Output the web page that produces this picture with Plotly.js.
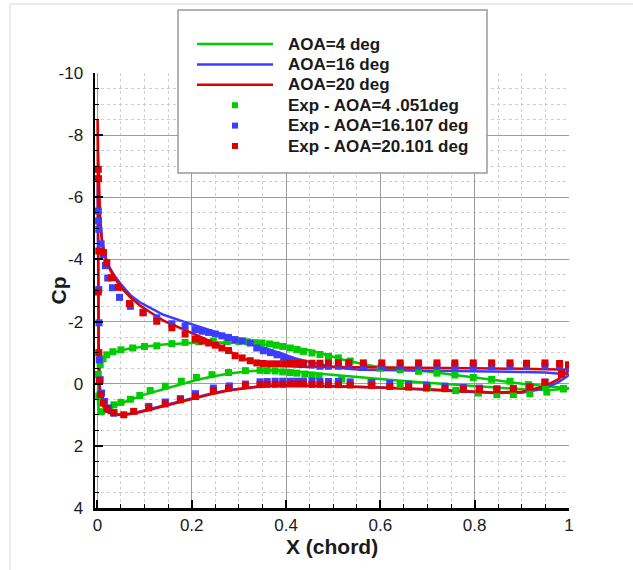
<!DOCTYPE html>
<html><head><meta charset="utf-8">
<script src="https://cdn.plot.ly/plotly-3.0.1.min.js"></script>
<style>html,body{margin:0;padding:0;background:#fff;}#chart{width:633px;height:570px;}</style>
</head><body><div id="chart"></div>
<script>
// ---------- DATA ----------
const seriesNames = ['AOA=4 deg','AOA=16 deg','AOA=20 deg','Exp - AOA=4 .051deg','Exp - AOA=16.107 deg','Exp - AOA=20.101 deg'];

// CFD AOA=4 (upper TE->LE, then lower LE->TE)
const cfd4_x = [1.0,0.95,0.91,0.85,0.8,0.75,0.7,0.65,0.6,0.56,0.52,0.48,0.45,0.41,0.37,0.33,0.28,0.21,0.14,0.1,0.07,0.045,0.028,0.015,0.008,0.004,0.002,0.001,
  0.0015,0.003,0.006,0.011,0.02,0.03,0.045,0.07,0.1,0.14,0.176,0.21,0.246,0.28,0.32,0.35,0.4,0.45,0.5,0.56,0.63,0.7,0.77,0.84,0.91,0.96,1.0];
const cfd4_cp = [0.15,0.08,0.02,-0.1,-0.2,-0.3,-0.39,-0.45,-0.52,-0.64,-0.78,-0.95,-1.08,-1.18,-1.25,-1.3,-1.33,-1.32,-1.26,-1.2,-1.14,-1.05,-0.98,-0.85,-0.7,-0.45,-0.1,0.3,
  0.6,0.85,0.97,0.98,0.88,0.78,0.66,0.52,0.35,0.18,0.02,-0.12,-0.24,-0.33,-0.4,-0.43,-0.42,-0.35,-0.27,-0.19,-0.11,-0.03,0.05,0.13,0.19,0.2,0.15];

// CFD AOA=16
const cfd16_x = [1.0,0.95,0.9,0.8,0.7,0.6,0.557,0.52,0.487,0.45,0.416,0.395,0.36,0.324,0.29,0.254,0.22,0.183,0.14,0.112,0.09,0.07,0.05,0.035,0.024,0.016,0.01,0.006,0.003,0.0012,
  0.0007,0.0012,0.002,0.003,0.005,0.008,0.012,0.02,0.03,0.045,0.06,0.08,0.105,0.14,0.176,0.21,0.246,0.28,0.317,0.35,0.4,0.5,0.6,0.7,0.77,0.84,0.9,0.945,0.975,0.995,1.0];
const cfd16_cp = [-0.3,-0.36,-0.38,-0.4,-0.41,-0.43,-0.45,-0.5,-0.58,-0.7,-0.83,-0.95,-1.12,-1.31,-1.46,-1.63,-1.8,-2.0,-2.22,-2.44,-2.62,-2.85,-3.2,-3.5,-3.8,-4.15,-4.6,-5.2,-5.9,-6.6,
  -6.0,-4.0,-2.0,-0.7,0.1,0.48,0.7,0.88,0.96,0.99,0.98,0.93,0.84,0.7,0.56,0.43,0.3,0.2,0.12,0.07,0.05,0.07,0.12,0.19,0.25,0.3,0.29,0.16,-0.03,-0.22,-0.3];

// CFD AOA=20
const cfd20_x = [1.0,0.95,0.9,0.8,0.7,0.6,0.5,0.43,0.39,0.36,0.345,0.325,0.303,0.28,0.254,0.22,0.183,0.14,0.112,0.09,0.07,0.05,0.035,0.024,0.016,0.01,0.006,0.003,0.0015,0.0005,
  0.0007,0.0012,0.002,0.003,0.005,0.008,0.012,0.02,0.03,0.045,0.06,0.08,0.105,0.14,0.176,0.21,0.246,0.28,0.317,0.35,0.4,0.5,0.6,0.7,0.77,0.84,0.9,0.945,0.975,0.995,1.0];
const cfd20_cp = [-0.45,-0.47,-0.48,-0.5,-0.51,-0.52,-0.53,-0.55,-0.57,-0.6,-0.63,-0.72,-0.86,-1.05,-1.27,-1.5,-1.74,-2.03,-2.3,-2.52,-2.78,-3.1,-3.45,-3.75,-4.1,-4.55,-5.3,-6.4,-7.5,-8.5,
  -7.0,-4.5,-2.2,-0.8,0.1,0.5,0.72,0.9,0.97,1.0,1.0,0.95,0.86,0.72,0.58,0.45,0.32,0.21,0.13,0.08,0.06,0.08,0.12,0.18,0.24,0.28,0.26,0.1,-0.12,-0.35,-0.45];

// Experiment AOA=4.051
const exp4_x = [0.002,0.006,0.012,0.02,0.033,0.05,0.075,0.1,0.126,0.158,0.186,0.215,0.246,0.275,0.3,0.318,0.335,0.349,0.365,0.379,0.393,0.409,0.423,0.437,0.455,0.472,0.49,0.511,0.536,0.6,0.642,0.681,0.72,0.758,0.797,0.836,0.875,0.914,0.95,0.988,
  0.003,0.008,0.02,0.035,0.05,0.07,0.09,0.112,0.144,0.178,0.21,0.243,0.278,0.314,0.345,0.36,0.377,0.393,0.409,0.423,0.44,0.455,0.47,0.518,0.58,0.642,0.7,0.76,0.808,0.847,0.882,0.917,0.953,0.988];
const exp4_cp = [-0.3,-0.62,-0.8,-0.93,-1.03,-1.09,-1.15,-1.2,-1.22,-1.29,-1.33,-1.35,-1.36,-1.36,-1.36,-1.35,-1.32,-1.31,-1.28,-1.24,-1.2,-1.15,-1.1,-1.04,-0.99,-0.94,-0.88,-0.83,-0.73,-0.5,-0.45,-0.4,-0.34,-0.28,-0.2,-0.14,-0.08,0.03,0.1,0.15,
  0.4,0.9,0.8,0.68,0.6,0.5,0.38,0.22,0.08,-0.08,-0.2,-0.29,-0.36,-0.42,-0.43,-0.42,-0.41,-0.38,-0.36,-0.34,-0.31,-0.28,-0.25,-0.15,-0.05,0.03,0.12,0.22,0.3,0.35,0.35,0.32,0.27,0.17];

// Experiment AOA=16.107
const exp16_x = [0.002,0.0025,0.003,0.008,0.013,0.017,0.022,0.032,0.047,0.07,0.097,0.126,0.158,0.186,0.208,0.222,0.236,0.25,0.264,0.278,0.292,0.307,0.324,0.338,0.352,0.367,0.381,0.395,0.409,0.423,0.437,0.455,0.472,0.49,0.511,0.533,0.564,0.603,0.642,0.681,0.72,0.758,0.797,0.836,0.875,0.91,0.949,0.98,0.999,
  0.003,0.0035,0.004,0.006,0.009,0.015,0.024,0.035,0.109,0.144,0.176,0.208,0.246,0.28,0.314,0.345,0.36,0.377,0.393,0.409,0.423,0.437,0.455,0.472,0.49,0.511,0.536,0.582,0.62,0.66,0.698,0.737,0.776,0.81,0.847,0.882,0.917,0.949,0.984];
const exp16_cp = [-5.56,-5.24,-4.97,-4.5,-4.15,-3.8,-3.4,-3.09,-2.78,-2.49,-2.3,-2.12,-1.93,-1.84,-1.74,-1.69,-1.65,-1.6,-1.54,-1.49,-1.42,-1.38,-1.31,-1.15,-1.06,-1.0,-0.93,-0.85,-0.77,-0.7,-0.65,-0.6,-0.56,-0.56,-0.56,-0.56,-0.56,-0.56,-0.56,-0.56,-0.56,-0.56,-0.56,-0.56,-0.56,-0.56,-0.56,-0.56,-0.5,
  -3.03,-1.96,-0.77,-0.13,0.3,0.57,0.78,0.95,0.73,0.59,0.48,0.32,0.14,0.07,0.01,-0.06,-0.07,-0.08,-0.08,-0.08,-0.08,-0.08,-0.08,-0.07,-0.07,-0.07,-0.06,-0.04,-0.01,0.02,0.05,0.08,0.12,0.14,0.16,0.15,0.1,-0.05,-0.3];

// Experiment AOA=20.101
const exp20_x = [0.002,0.0025,0.003,0.013,0.02,0.03,0.045,0.068,0.097,0.126,0.158,0.186,0.208,0.222,0.236,0.25,0.264,0.278,0.292,0.307,0.324,0.338,0.352,0.367,0.381,0.395,0.409,0.423,0.437,0.455,0.472,0.49,0.511,0.533,0.564,0.603,0.642,0.681,0.72,0.758,0.797,0.836,0.875,0.91,0.949,0.98,0.999,
  0.002,0.003,0.004,0.007,0.012,0.02,0.035,0.056,0.077,0.109,0.144,0.176,0.208,0.246,0.278,0.314,0.345,0.36,0.377,0.393,0.409,0.423,0.437,0.455,0.472,0.49,0.511,0.536,0.582,0.62,0.66,0.698,0.737,0.776,0.81,0.847,0.882,0.917,0.949,0.984];
const exp20_cp = [-6.9,-6.6,-4.27,-4.22,-3.89,-3.41,-3.1,-2.58,-2.28,-2.01,-1.8,-1.6,-1.44,-1.37,-1.31,-1.24,-1.15,-1.07,-0.9,-0.83,-0.74,-0.67,-0.65,-0.64,-0.64,-0.64,-0.65,-0.65,-0.66,-0.66,-0.66,-0.67,-0.67,-0.67,-0.67,-0.67,-0.67,-0.67,-0.67,-0.67,-0.67,-0.67,-0.67,-0.66,-0.67,-0.65,-0.61,
  -2.95,-1.0,-0.1,0.35,0.62,0.8,0.93,1.0,0.89,0.78,0.65,0.52,0.41,0.22,0.14,0.06,0.03,0.02,0.02,0.02,0.01,0.01,0.01,0.02,0.02,0.03,0.03,0.04,0.06,0.09,0.11,0.14,0.16,0.18,0.19,0.19,0.17,0.11,-0.05,-0.32];

const xTickVals = [0,0.2,0.4,0.6,0.8,1];
const xTickText = ['0','0.2','0.4','0.6','0.8','1'];
const yTickVals = [-10,-8,-6,-4,-2,0,2,4];
const yTickText = ['-10','-8','-6','-4','-2','0','2','4'];
const xTitle = 'X (chord)';
const yTitle = 'Cp';

// ---------- STYLE ----------
const GREEN = 'rgb(0,204,0)', BLUE = 'rgb(60,60,255)', RED = 'rgb(220,0,0)';
const FONT = 'Arial, "Liberation Sans", sans-serif';
const W = 633, H = 570, ML = 95, MR = 64, MT = 73, MB = 62;
const PW = W - ML - MR, PH = H - MT - MB;
const px = v => (v - ML) / PW;           // pixel -> paper x
const py = v => (H - MB - v) / PH;       // pixel -> paper y

function lineTrace(x, y, c, name) {
  return {x: x, y: y, mode: 'lines', name: name, line: {color: c, width: 2.5}, showlegend: false};
}
function expTrace(x, y, c, name) {
  return {x: x, y: y, mode: 'markers', name: name, marker: {symbol: 'square', size: 7, color: c, line: {width: 0}}, showlegend: false};
}
const traces = [
  lineTrace(cfd4_x, cfd4_cp, GREEN, seriesNames[0]),
  lineTrace(cfd16_x, cfd16_cp, BLUE, seriesNames[1]),
  lineTrace(cfd20_x, cfd20_cp, RED, seriesNames[2]),
  expTrace(exp4_x, exp4_cp, GREEN, seriesNames[3]),
  expTrace(exp16_x, exp16_cp, BLUE, seriesNames[4]),
  expTrace(exp20_x, exp20_cp, RED, seriesNames[5])
];

// ---------- LEGEND (drawn box) ----------
const legColors = [GREEN, BLUE, RED, GREEN, BLUE, RED];
const shapes = [
  {type:'line', xref:'paper', yref:'paper', x0:px(10), x1:px(633), y0:py(4), y1:py(4), line:{color:'#d9d9d9', width:1}},
  {type:'line', xref:'paper', yref:'paper', x0:px(10), x1:px(10), y0:py(4), y1:py(570), line:{color:'#d9d9d9', width:1}},
  {type:'rect', xref:'paper', yref:'paper', layer:'above', x0:px(178), x1:px(487), y0:py(173), y1:py(10),
   fillcolor:'#ffffff', line:{color:'#9a9a9a', width:1.5}}
];
const annotations = [];
seriesNames.forEach((nm, i) => {
  const ry = 44 + i * 20.4;
  if (i < 3) {
    shapes.push({type:'line', xref:'paper', yref:'paper', layer:'above', x0:px(197), x1:px(273), y0:py(ry), y1:py(ry), line:{color:legColors[i], width:2.5}});
  } else {
    shapes.push({type:'rect', xref:'paper', yref:'paper', layer:'above', x0:px(232), x1:px(238), y0:py(ry+3), y1:py(ry-3), fillcolor:legColors[i], line:{width:0}});
  }
  annotations.push({xref:'paper', yref:'paper', x:px(286), y:py(ry), xanchor:'left', yanchor:'middle', showarrow:false,
    text: nm, font:{family:FONT, size:17, color:'#1a1a1a', weight:'bold'}});
});
// axis titles placed precisely
annotations.push({xref:'paper', yref:'paper', x:px(58), y:0.5, xanchor:'center', yanchor:'middle', textangle:-90, showarrow:false,
  text: yTitle, font:{family:FONT, size:21, color:'#1a1a1a', weight:'bold'}});
annotations.push({xref:'paper', yref:'paper', x:0.5, y:py(546), xanchor:'center', yanchor:'middle', showarrow:false,
  text: xTitle, font:{family:FONT, size:21, color:'#1a1a1a', weight:'bold'}});

const layout = {
  width: W, height: H,
  margin: {l: ML, r: MR, t: MT, b: MB, pad: 0},
  paper_bgcolor: '#ffffff', plot_bgcolor: '#ffffff',
  font: {family: FONT, color: '#1a1a1a'},
  showlegend: false,
  xaxis: {
    range: [-0.005, 1.0], tickmode: 'array', tickvals: xTickVals, ticktext: xTickText,
    ticks: 'inside', ticklen: 8, tickwidth: 2, tickcolor: '#000',
    showline: true, linecolor: '#000', linewidth: 2.5, mirror: false,
    showgrid: true, gridcolor: '#9c9c9c', gridwidth: 1, zeroline: false,
    tickfont: {family: FONT, size: 17, color: '#1a1a1a'}, ticklabelstandoff: 0,
    minor: {tickmode: 'linear', tick0: 0, dtick: 0.05, ticks: 'inside', ticklen: 4, tickwidth: 1, tickcolor: '#000',
            showgrid: true, gridcolor: '#cfcfcf', griddash: 'dot', gridwidth: 1}
  },
  yaxis: {
    range: [4, -10], tickmode: 'array', tickvals: yTickVals, ticktext: yTickText,
    ticks: 'inside', ticklen: 8, tickwidth: 2, tickcolor: '#000',
    showline: true, linecolor: '#000', linewidth: 2.5, mirror: false,
    showgrid: true, gridcolor: '#9c9c9c', gridwidth: 1, zeroline: false,
    tickfont: {family: FONT, size: 17, color: '#1a1a1a'}, ticklabelstandoff: 6,
    minor: {tickmode: 'linear', tick0: 0, dtick: 0.5, ticks: 'inside', ticklen: 4, tickwidth: 1, tickcolor: '#000',
            showgrid: true, gridcolor: '#cfcfcf', griddash: 'dot', gridwidth: 1}
  },
  shapes: shapes,
  annotations: annotations
};

Plotly.newPlot('chart', traces, layout, {staticPlot: true, displayModeBar: false});
</script></body></html>
